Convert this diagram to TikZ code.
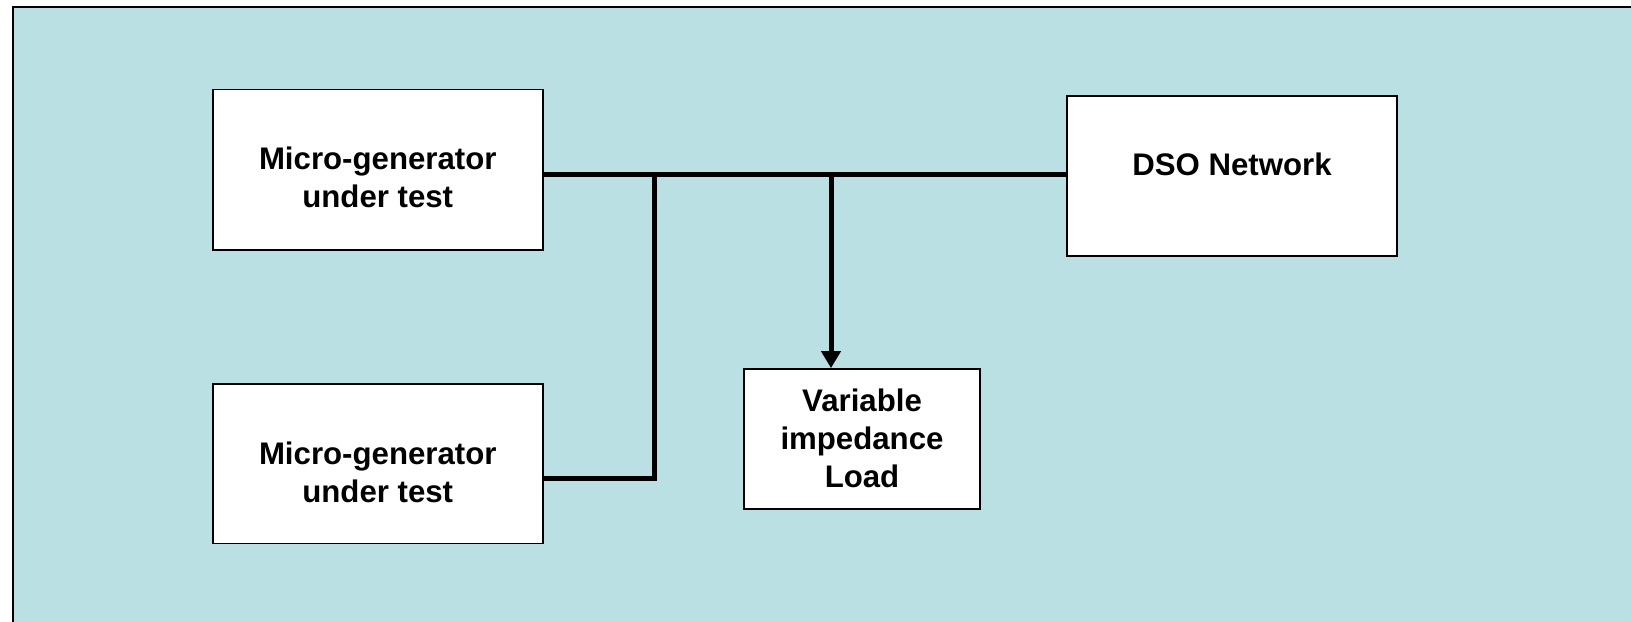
\documentclass[tikz,border=0pt]{standalone}
\usepackage{fontspec}
\setmainfont{Liberation Sans}
\usetikzlibrary{arrows.meta}
\definecolor{panel}{RGB}{186,224,227}
\tikzset{
  unitbox/.style={draw=black, line width=0.9pt, fill=white, inner sep=0pt},
  lbl/.style={align=center, inner sep=0pt,
    font=\fontsize{15.6}{19}\selectfont\bfseries},
  wire/.style={line width=2.5pt, line join=miter},
  feed/.style={wire, -{Triangle[width=9.5pt,length=8.5pt]}}
}
\begin{document}
\begin{tikzpicture}[x=0.5pt, y=-0.5pt]
  % page area and the framed panel behind the diagram
  \useasboundingbox (0,0) rectangle (1631,621);
  \clip (0,0) rectangle (1631,621);
  \fill[white] (0,0) rectangle (1631,621);
  \draw[line width=1.1pt, fill=panel] (13,6.7) rectangle (1700,700);

  % blocks
  \node[unitbox, minimum width=165pt, minimum height=80.3pt] (gen1) at (377.75,169.75) {};
  \node[unitbox, minimum width=165pt, minimum height=79.8pt] (gen2) at (377.75,463.75) {};
  \node[unitbox, minimum width=165pt, minimum height=80.2pt] (dso) at (1232,175.9) {};
  \node[unitbox, minimum width=118pt, minimum height=70pt] (load) at (862,439) {};

  % block labels
  \node[lbl] (gen1txt) at ([yshift=-4pt]gen1.center) {Micro-generator\\under test};
  \node[lbl] (gen2txt) at ([yshift=-4.4pt]gen2.center) {Micro-generator\\under test};
  \node[lbl] (dsotxt) at ([yshift=5.8pt]dso.center) {DSO Network};
  \node[lbl] (loadtxt) at ([yshift=0.5pt]load.center) {Variable\\impedance\\Load};

  % junction points on the common bus
  \coordinate (j1) at (654.5,174);
  \coordinate (j2) at (831,174);
  \coordinate (k1) at (654.5,478);

  % common bus between the first generator and the network
  \draw[wire] (gen1.east |- j1) -- (dso.west |- j1);
  % second generator tied into the bus
  \draw[wire] (j1) -- (k1) -- (gen2.east |- k1);
  % feed to the load
  \draw[feed] (j2) -- (load.north -| j2);
\end{tikzpicture}
\end{document}
